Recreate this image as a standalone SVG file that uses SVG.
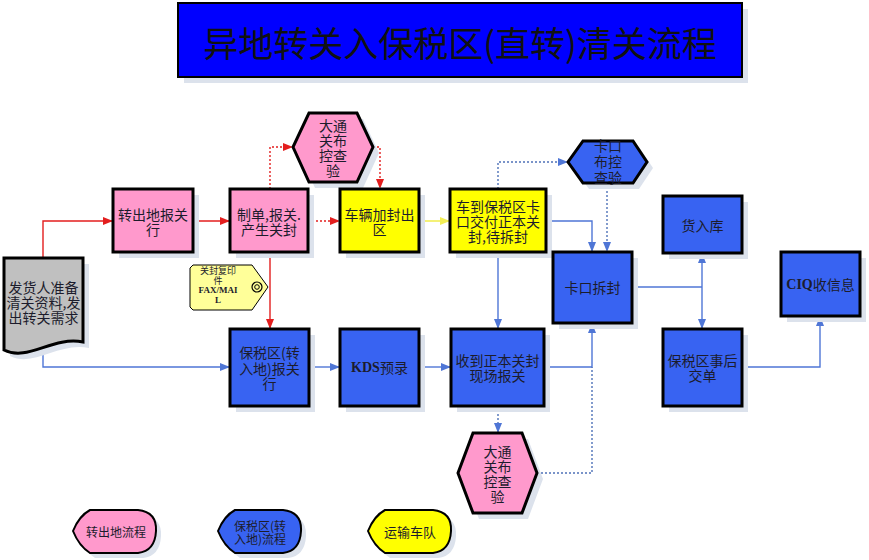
<svg xmlns="http://www.w3.org/2000/svg" width="869" height="560" viewBox="0 0 869 560">
<defs>
<style>
.t{font-family:"Noto Sans CJK SC","Liberation Sans",sans-serif;font-size:14px;fill:#1c1c2c;text-anchor:middle;dominant-baseline:central}
.b{font-family:"Liberation Serif",serif;font-weight:bold}
.box{stroke:#000;stroke-width:3}
.pink{fill:#FF99CC}
.yel{fill:#FFFF00}
.blue{fill:#3863F2}
.gray{fill:#C0C0C0}
.sh{fill:#DCE2EC}
.cr{fill:none;stroke:#E31E1E;stroke-width:1.4}
.cb{fill:none;stroke:#4F76D6;stroke-width:1.4}
.cy{fill:none;stroke:#F2EE55;stroke-width:1.6}
.dot{stroke-dasharray:2,2}
.db{fill:none;stroke:#4F72B8;stroke-width:1.4;stroke-dasharray:2,2}
</style>
<marker id="ar" markerUnits="userSpaceOnUse" markerWidth="10" markerHeight="8" refX="10" refY="4" orient="auto"><path d="M0,0 L10,4 L0,8 Z" fill="#E31E1E"/></marker>
<marker id="ab" markerUnits="userSpaceOnUse" markerWidth="10" markerHeight="8" refX="10" refY="4" orient="auto"><path d="M0,0 L10,4 L0,8 Z" fill="#4F76D6"/></marker>
<marker id="ay" markerUnits="userSpaceOnUse" markerWidth="10" markerHeight="8" refX="10" refY="4" orient="auto"><path d="M0,0 L10,4 L0,8 Z" fill="#F2EE55"/></marker>
</defs>
<rect width="869" height="560" fill="#fff"/>

<g id="title">
<rect x="184" y="9" width="564" height="74" class="sh"/>
<rect x="178" y="3" width="564" height="74" fill="#0000FF" stroke="#000" stroke-width="2"/>
<text x="460" y="41" class="t" style="font-size:35px;fill:#111">异地转关入保税区(直转)清关流程</text>
</g>

<g id="connectors">
<path d="M43,258 L43,221 L113,221" class="cr" marker-end="url(#ar)"/>
<path d="M193,221 L230,221" class="cr" marker-end="url(#ar)"/>
<path d="M270,252 L270,329" class="cr" marker-end="url(#ar)"/>
<path d="M270,189 L270,147 L293,147" class="cr dot" marker-end="url(#ar)"/>
<path d="M373,147 L380,147 L380,189" class="cr dot" marker-end="url(#ar)"/>
<path d="M308,221 L340,221" class="cr dot" marker-end="url(#ar)"/>
<path d="M419,221 L450,221" class="cy" marker-end="url(#ay)"/>
<path d="M43,352 L43,367 L230,367" class="cb" marker-end="url(#ab)"/>
<path d="M309,367 L340,367" class="cb" marker-end="url(#ab)"/>
<path d="M419,367 L451,367" class="cb" marker-end="url(#ab)"/>
<path d="M498,252 L498,329" class="cb" marker-end="url(#ab)"/>
<path d="M544,367 L592,367 L592,323" class="cb" marker-end="url(#ab)"/>
<path d="M546,221 L592,221 L592,252" class="cb" marker-end="url(#ab)"/>
<path d="M632,287 L702,287" class="cb"/>
<path d="M702,287 L702,253" class="cb" marker-end="url(#ab)"/>
<path d="M702,287 L702,329" class="cb" marker-end="url(#ab)"/>
<path d="M742,367 L820,367 L820,316" class="cb" marker-end="url(#ab)"/>
<path d="M498,189 L498,162 L568,162" class="db" marker-end="url(#ab)"/>
<path d="M607,183 L607,252" class="db" marker-end="url(#ab)"/>
<path d="M498,406 L498,433" class="db" marker-end="url(#ab)"/>
<path d="M537,473 L592,473 L592,367" class="db"/>
</g>

<g id="n-shipper">
<path d="M10,264 L89,264 L89,348 C58,342 34,368 10,356 Z" class="sh"/>
<path d="M4,258 L83,258 L83,342 C52,336 28,362 4,350 Z" class="gray box"/>
<text class="t"><tspan x="43.5" y="287">发货人准备</tspan><tspan x="43.5" y="302">清关资料,发</tspan><tspan x="43.5" y="317">出转关需求</tspan></text>
</g>

<g id="n-out-broker">
<rect x="119" y="195" width="80" height="63" class="sh"/>
<rect x="113" y="189" width="80" height="63" class="pink box"/>
<text class="t"><tspan x="153" y="214">转出地报关</tspan><tspan x="153" y="229">行</tspan></text>
</g>

<g id="n-declare">
<rect x="236" y="195" width="78" height="63" class="sh"/>
<rect x="230" y="189" width="78" height="63" class="pink box"/>
<text class="t"><tspan x="269" y="214">制单,报关.</tspan><tspan x="269" y="229">产生关封</tspan></text>
</g>

<g id="n-hex-top">
<path d="M315,119 L363,119 L379,153 L363,188 L315,188 L299,153 Z" class="sh"/>
<path d="M309,113 L357,113 L373,147 L357,182 L309,182 L293,147 Z" class="pink box"/>
<text class="t"><tspan x="333" y="125">大通</tspan><tspan x="333" y="140">关布</tspan><tspan x="333" y="155">控查</tspan><tspan x="333" y="170">验</tspan></text>
</g>

<g id="n-seal">
<rect x="346" y="195" width="79" height="63" class="sh"/>
<rect x="340" y="189" width="79" height="63" class="yel box"/>
<text class="t"><tspan x="379.5" y="214">车辆加封出</tspan><tspan x="379.5" y="229">区</tspan></text>
</g>

<g id="n-arrive">
<rect x="456" y="195" width="96" height="63" class="sh"/>
<rect x="450" y="189" width="96" height="63" class="yel box"/>
<text class="t"><tspan x="498" y="206">车到保税区卡</tspan><tspan x="498" y="221">口交付正本关</tspan><tspan x="498" y="236">封,待拆封</tspan></text>
</g>

<g id="n-hex-gate">
<path d="M589,147 L639,147 L653,168 L639,189 L589,189 L574,168 Z" class="sh"/>
<path d="M583,141 L633,141 L647,162 L633,183 L583,183 L568,162 Z" class="blue box"/>
<text class="t"><tspan x="608" y="145">卡口</tspan><tspan x="608" y="161">布控</tspan><tspan x="608" y="177">查验</tspan></text>
</g>

<g id="n-unseal">
<rect x="559" y="258" width="79" height="71" class="sh"/>
<rect x="553" y="252" width="79" height="71" class="blue box"/>
<text x="592.5" y="287" class="t">卡口拆封</text>
</g>

<g id="n-warehouse">
<rect x="669" y="202" width="79" height="57" class="sh"/>
<rect x="663" y="196" width="79" height="57" class="blue box"/>
<text x="702.5" y="225" class="t">货入库</text>
</g>

<g id="n-ciq">
<rect x="787" y="258" width="79" height="64" class="sh"/>
<rect x="781" y="252" width="79" height="64" class="blue box"/>
<text x="820.5" y="284" class="t"><tspan class="b">CIQ</tspan>收信息</text>
</g>

<g id="n-post">
<rect x="669" y="335" width="79" height="77" class="sh"/>
<rect x="663" y="329" width="79" height="77" class="blue box"/>
<text class="t"><tspan x="702.5" y="360">保税区事后</tspan><tspan x="702.5" y="375">交单</tspan></text>
</g>

<g id="n-in-broker">
<rect x="236" y="335" width="79" height="77" class="sh"/>
<rect x="230" y="329" width="79" height="77" class="blue box"/>
<text class="t"><tspan x="269.5" y="352">保税区(转</tspan><tspan x="269.5" y="368">入地)报关</tspan><tspan x="269.5" y="383">行</tspan></text>
</g>

<g id="n-kds">
<rect x="346" y="335" width="79" height="77" class="sh"/>
<rect x="340" y="329" width="79" height="77" class="blue box"/>
<text x="379.5" y="367" class="t"><tspan class="b">KDS</tspan>预录</text>
</g>

<g id="n-receive">
<rect x="457" y="335" width="93" height="77" class="sh"/>
<rect x="451" y="329" width="93" height="77" class="blue box"/>
<text class="t"><tspan x="497.5" y="360">收到正本关封</tspan><tspan x="497.5" y="375">现场报关</tspan></text>
</g>

<g id="n-hex-bottom">
<path d="M479,439 L528,439 L543,479 L528,519 L479,519 L464,479 Z" class="sh"/>
<path d="M473,433 L522,433 L537,473 L522,513 L473,513 L458,473 Z" class="pink box"/>
<text class="t"><tspan x="497.5" y="451">大通</tspan><tspan x="497.5" y="466">关布</tspan><tspan x="497.5" y="481">控查</tspan><tspan x="497.5" y="496">验</tspan></text>
</g>

<g id="n-tag">
<path d="M193,265 L252,265 L268,287 L252,310 L193,310 L190,307 L190,268 Z" fill="#FFFF99" stroke="#000" stroke-width="1"/>
<circle cx="257" cy="287" r="5" fill="none" stroke="#000" stroke-width="1.2"/>
<circle cx="257" cy="287" r="2.3" fill="none" stroke="#000" stroke-width="1"/>
<text class="t" style="font-size:9px"><tspan x="218" y="270">关封复印</tspan><tspan x="218" y="280">件</tspan><tspan x="218" y="290" class="b">FAX/MAI</tspan><tspan x="218" y="300" class="b">L</tspan></text>
</g>

<g id="legend-out">
<path d="M95,515 L143,515 Q162,517 161,536 Q160,556 143,558 L95,558 Q84,551 78,536 Q84,521 95,515 Z" class="sh"/>
<path d="M90,510 L138,510 Q157,512 156,531 Q155,551 138,553 L90,553 Q79,546 73,531 Q79,516 90,510 Z" class="pink" stroke="#000" stroke-width="2"/>
<text x="116" y="531" class="t" style="font-size:12px">转出地流程</text>
</g>

<g id="legend-in">
<path d="M240,515 L288,515 Q307,517 306,536 Q305,556 288,558 L240,558 Q229,551 223,536 Q229,521 240,515 Z" class="sh"/>
<path d="M235,510 L283,510 Q302,512 301,531 Q300,551 283,553 L235,553 Q224,546 218,531 Q224,516 235,510 Z" class="blue" stroke="#000" stroke-width="2"/>
<text class="t" style="font-size:12px"><tspan x="260" y="525">保税区(转</tspan><tspan x="260" y="538">入地)流程</tspan></text>
</g>

<g id="legend-truck">
<path d="M390,515 L438,515 Q457,517 456,536 Q455,556 438,558 L390,558 Q379,551 373,536 Q379,521 390,515 Z" class="sh"/>
<path d="M385,510 L433,510 Q452,512 451,531 Q450,551 433,553 L385,553 Q374,546 368,531 Q374,516 385,510 Z" class="yel" stroke="#000" stroke-width="2"/>
<text x="410" y="531" class="t" style="font-size:13px">运输车队</text>
</g>
</svg>
